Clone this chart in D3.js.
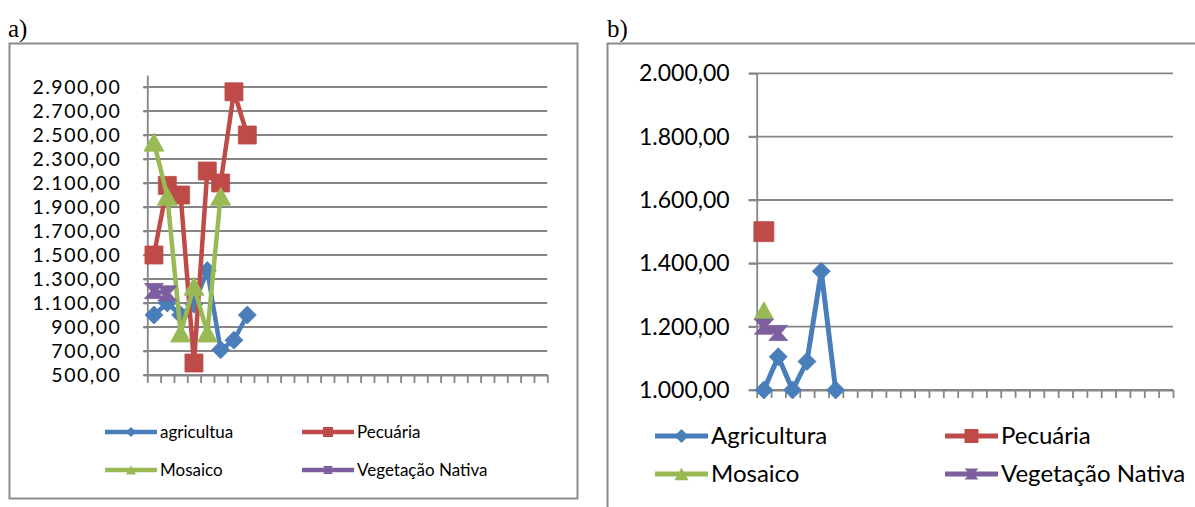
<!DOCTYPE html>
<html><head><meta charset="utf-8">
<script src="https://cdn.jsdelivr.net/npm/d3@7"></script>
<style>body{margin:0;background:#fff} svg{display:block}</style>
</head><body><svg id="chart" width="1195" height="507"></svg>
<script>
// Category slots along the horizontal axis (no visible labels)
const categoriesA = d3.range(1, 31);
const categoriesB = d3.range(1, 30);
// Value-axis tick labels
const yTicksA = [500, 700, 900, 1100, 1300, 1500, 1700, 1900, 2100, 2300, 2500, 2700, 2900];
const yTicksB = [1000, 1200, 1400, 1600, 1800, 2000];

const namesA = ["agricultua", "Pecuária", "Mosaico", "Vegetação Nativa"];
const namesB = ["Agricultura", "Pecuária", "Mosaico", "Vegetação Nativa"];

// Panel a) series
const agriculturaA = [1000, 1100, 1000, 1090, 1370, 710, 790, 1000];
const pecuariaA    = [1500, 2080, 2000, 600, 2200, 2100, 2860, 2500];
const mosaicoA     = [2440, 1990, 850, 1240, 850, 1990];
const vegetacaoA   = [1200, 1180];

// Panel b) series
const agriculturaB = [1000, 1105, 1000, 1090, 1375, 1000];
const pecuariaB    = [1500];
const mosaicoB     = [1250];
const vegetacaoB   = [1200, 1180];

const colors = ["#4a7ebb", "#be4b48", "#98b954", "#7d5fa0"];
const shapes = ["diamond", "square", "triangle", "hourglass"];

const svg = d3.select("#chart");
svg.append("rect").attr("width", 1195).attr("height", 507).attr("fill", "#fff");

const ptBR = d3.formatLocale({decimal: ",", thousands: ".", grouping: [3], currency: ["", ""]});
const fmt = ptBR.format(",.2f");
const FONT = "Lato, 'Open Sans', sans-serif";
const GRID = "#868686";

function markerPath(shape, s) {
  const h = s / 2;
  switch (shape) {
    case "diamond": return `M0,${-h}L${h},0L0,${h}L${-h},0Z`;
    case "square": return `M${-h},${-h}H${h}V${h}H${-h}Z`;
    case "triangle": { const t = s * 0.9; return `M0,${-t / 2}L${h},${t / 2}L${-h},${t / 2}Z`; }
    case "hourglass": { const v = s * 0.4; return `M${-h},${-v}H${h}L${h * 0.3},0L${h},${v}H${-h}L${-h * 0.3},0Z`; }
  }
}

function drawPanel(cfg) {
  const g = svg.append("g");
  const band = d3.scaleBand().domain(cfg.categories).range([cfg.x0, cfg.x1]);
  const slot = d3.scaleLinear().domain([0, cfg.categories.length]).range([cfg.x0, cfg.x1]);
  const y = d3.scaleLinear().domain(cfg.domain).range([cfg.yBottom, cfg.yTop]);
  const cx = i => band(cfg.categories[i]) + band.bandwidth() / 2;

  // horizontal gridlines
  g.append("g").selectAll("line").data(cfg.yTicks).join("line")
    .attr("x1", cfg.x0 - cfg.yTickLen).attr("x2", cfg.x1)
    .attr("y1", d => y(d)).attr("y2", d => y(d))
    .attr("stroke", GRID).attr("stroke-width", 1.8);

  // value axis
  const ya = g.append("g").attr("transform", `translate(${cfg.x0},0)`)
    .call(d3.axisLeft(y).tickValues(cfg.yTicks).tickFormat(fmt)
      .tickSize(cfg.yTickLen).tickSizeOuter(0).tickPadding(cfg.labelPad));
  ya.select(".domain").attr("stroke", GRID).attr("stroke-width", 1.8);
  ya.selectAll(".tick line").attr("stroke", GRID).attr("stroke-width", 1.8);
  ya.selectAll("text").attr("font-family", FONT).attr("font-size", cfg.labelSize)
    .attr("letter-spacing", cfg.labelSpacing).attr("fill", "#000");
  ya.attr("font-family", null).attr("font-size", null);

  // category axis with boundary ticks
  const xa = g.append("g").attr("transform", `translate(0,${cfg.yBottom})`)
    .call(d3.axisBottom(slot).tickValues(d3.range(cfg.categories.length + 1))
      .tickFormat("").tickSize(8).tickSizeOuter(0));
  xa.select(".domain").attr("stroke", GRID).attr("stroke-width", 1.8);
  xa.selectAll(".tick line").attr("stroke", GRID).attr("stroke-width", 1.8);

  // series: lines then markers, in series order
  cfg.series.forEach((vals, k) => {
    const line = d3.line().x((d, i) => cx(i)).y(d => y(d));
    if (vals.length > 1) {
      g.append("path").datum(vals).attr("d", line)
        .attr("fill", "none").attr("stroke", colors[k]).attr("stroke-width", cfg.lineWidth)
        .attr("stroke-linejoin", "round");
    }
    g.append("g").selectAll("path").data(vals).join("path")
      .attr("transform", (d, i) => `translate(${cx(i)},${y(d)})`)
      .attr("d", markerPath(shapes[k], cfg.markerSize[k]))
      .attr("fill", colors[k]).attr("stroke", colors[k]).attr("stroke-width", 0.8);
  });

  // legend
  cfg.names.forEach((name, k) => {
    const col = k % 2, row = Math.floor(k / 2);
    const lx = cfg.legend.x[col], ly = cfg.legend.y[row];
    const lg = g.append("g");
    lg.append("line").attr("x1", lx).attr("x2", lx + cfg.legend.len)
      .attr("y1", ly).attr("y2", ly).attr("stroke", colors[k]).attr("stroke-width", cfg.lineWidth);
    lg.append("path").attr("transform", `translate(${lx + cfg.legend.len / 2},${ly})`)
      .attr("d", markerPath(shapes[k], cfg.legend.marker)).attr("fill", colors[k]);
    lg.append("text").attr("x", lx + cfg.legend.len + 3).attr("y", ly).attr("dy", "0.35em")
      .attr("font-family", FONT).attr("font-size", cfg.legend.size).attr("fill", "#000").text(name);
  });
}

// frames and panel captions
svg.append("rect").attr("x", 9.5).attr("y", 43.5).attr("width", 568).attr("height", 455)
  .attr("fill", "none").attr("stroke", "#8c8c8c").attr("stroke-width", 2);
svg.append("path").attr("d", "M607.5,507V43.5H1195")
  .attr("fill", "none").attr("stroke", "#8c8c8c").attr("stroke-width", 2);
svg.append("text").attr("x", 8).attr("y", 37).attr("font-family", "'Liberation Serif', serif")
  .attr("font-size", 25).text("a)");
svg.append("text").attr("x", 607).attr("y", 37).attr("font-family", "'Liberation Serif', serif")
  .attr("font-size", 25).text("b)");

drawPanel({
  categories: categoriesA, yTicks: yTicksA, domain: [500, 3000],
  x0: 147.3, x1: 547.3, yTop: 75, yBottom: 375,
  yTickLen: 4, labelPad: 22, labelSize: 19.5, labelSpacing: 1.5,
  series: [agriculturaA, pecuariaA, mosaicoA, vegetacaoA], names: namesA,
  lineWidth: 4.5, markerSize: [18, 18, 20, 19],
  legend: {x: [105, 302], y: [432, 470], len: 52, marker: 10, size: 17}
});

drawPanel({
  categories: categoriesB, yTicks: yTicksB, domain: [1000, 2000],
  x0: 756.7, x1: 1173, yTop: 73.3, yBottom: 390,
  yTickLen: 8, labelPad: 19, labelSize: 23, labelSpacing: 0,
  series: [agriculturaB, pecuariaB, mosaicoB, vegetacaoB], names: namesB,
  lineWidth: 5, markerSize: [18, 20, 20, 19],
  legend: {x: [655, 945], y: [436, 474], len: 53, marker: 14, size: 24}
});
</script>
</body></html>
